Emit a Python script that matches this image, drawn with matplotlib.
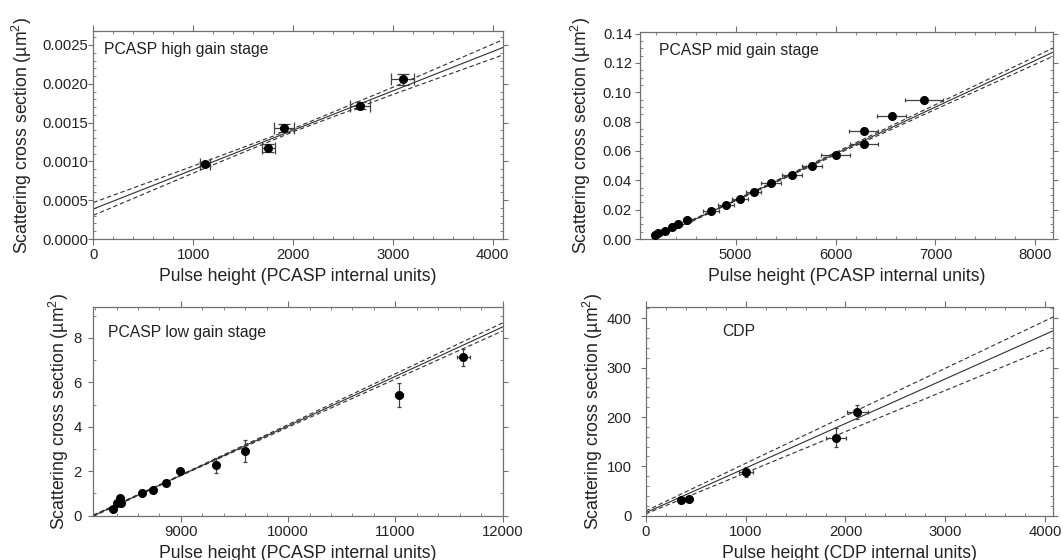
import matplotlib
matplotlib.use("Agg")
import matplotlib.pyplot as plt
from matplotlib.ticker import MultipleLocator, FormatStrFormatter

plt.rcParams['font.family'] = ['Liberation Sans', 'DejaVu Sans']
plt.rcParams['mathtext.default'] = 'regular'

# ---------------- data ----------------
# Panel 1: PCASP high gain stage
hi_x = [1115, 1753, 1912, 2675, 3098]
hi_y = [0.000966, 0.001173, 0.00143, 0.00172, 0.00206]
hi_xerr = [50, 65, 100, 100, 115]
hi_yerr = [0.00003, 0.00005, 0.00005, 0.00004, 0.00007]
hi_fit_x = [0, 4100]
hi_fit_y = [0.000387, 0.002466]
hi_band_x = [0, 1000, 2000, 3000, 4100]
hi_band_up = [0.000470, 0.000940, 0.001421, 0.001955, 0.002566]
hi_band_lo = [0.000305, 0.000849, 0.001381, 0.001862, 0.002370]

# Panel 2: PCASP mid gain stage
mid_x = [4192, 4225, 4292, 4366, 4426, 4510, 4753, 4900, 5043, 5183, 5354,
         5560, 5760, 6001, 6281, 6281, 6561, 6884]
mid_y = [0.0024, 0.0040, 0.0058, 0.0079, 0.0102, 0.0128, 0.0192, 0.0232,
         0.0273, 0.0322, 0.0379, 0.0437, 0.0499, 0.0571, 0.0651, 0.0738,
         0.0839, 0.0949]
mid_xerr = [20, 22, 25, 30, 35, 40, 78, 80, 78, 75, 100, 100, 100, 146, 140,
            143, 146, 187]
mid_fit_x = [4170, 8180]
mid_fit_y = [0.0, 0.1275]
mid_band_x = [4170, 5000, 6000, 7000, 8180]
mid_band_up = [0.0006, 0.0268, 0.0590, 0.0916, 0.1303]
mid_band_lo = [-0.0006, 0.0260, 0.0574, 0.0884, 0.1247]

# Panel 3: PCASP low gain stage
low_x = [8369, 8400, 8430, 8440, 8640, 8740, 8860, 8994, 9331, 9599, 11035,
         11634]
low_y = [0.29, 0.56, 0.78, 0.58, 1.00, 1.17, 1.48, 2.02, 2.26, 2.91, 5.41,
         7.13]
low_xerr = [10, 10, 10, 10, 12, 12, 15, 20, 20, 20, 40, 60]
low_yerr = [0.05, 0.05, 0.06, 0.05, 0.06, 0.06, 0.07, 0.10, 0.33, 0.48,
            0.54, 0.39]
low_fit_x = [8183, 12000]
low_fit_y = [0.0, 8.49]
low_band_x = [8183, 9000, 10000, 11000, 12000]
low_band_up = [0.03, 1.84, 4.10, 6.385, 8.67]
low_band_lo = [-0.03, 1.80, 3.98, 6.145, 8.31]

# Panel 4: CDP
cdp_x = [351, 435, 1006, 1907, 2118]
cdp_y = [31.8, 33.8, 89.0, 158.0, 210.0]
cdp_xerr = [20, 20, 70, 100, 107]
cdp_yerr = [3, 3, 10, 19, 14]
cdp_fit_x = [0, 4080]
cdp_fit_y = [6.0, 375.0]
cdp_band_x = [0, 4080]
cdp_band_up = [9.5, 403.0]
cdp_band_lo = [3.4, 344.0]

# ---------------- figure ----------------
fig = plt.figure(figsize=(10.63, 5.6), dpi=100)

axes_pos = [
    [0.0878, 0.5732, 0.3850, 0.3714],
    [0.6025, 0.5732, 0.3885, 0.3696],
    [0.0878, 0.0791, 0.3850, 0.3732],
    [0.6073, 0.0791, 0.3837, 0.3732],
]

panels = [
    dict(x=hi_x, y=hi_y, xerr=hi_xerr, yerr=hi_yerr, fx=hi_fit_x, fy=hi_fit_y,
         bx=hi_band_x, bu=hi_band_up, bl=hi_band_lo,
         xlim=(0, 4100), ylim=(0, 0.00268), xmaj=1000, xmin=200,
         ymaj=0.0005, ymin=0.0001, yfmt='%.4f',
         title='PCASP high gain stage', tpos=(0.027, 0.909),
         xlabel='Pulse height (PCASP internal units)', ylx=-0.174, capsize=4,
         ypad=0.0),
    dict(x=mid_x, y=mid_y, xerr=mid_xerr, yerr=None, fx=mid_fit_x, fy=mid_fit_y,
         bx=mid_band_x, bu=mid_band_up, bl=mid_band_lo,
         xlim=(4048, 8180), ylim=(0, 0.1411), xmaj=1000, xmin=200,
         ymaj=0.02, ymin=0.005, yfmt='%.2f',
         title='PCASP mid gain stage', tpos=(0.044, 0.913),
         xlabel='Pulse height (PCASP internal units)', ylx=-0.144, capsize=1.5,
         ypad=2.6),
    dict(x=low_x, y=low_y, xerr=low_xerr, yerr=low_yerr, fx=low_fit_x, fy=low_fit_y,
         bx=low_band_x, bu=low_band_up, bl=low_band_lo,
         xlim=(8183, 12000), ylim=(0, 9.4), xmaj=1000, xmin=200,
         ymaj=2, ymin=1, yfmt='%d',
         title='PCASP low gain stage', tpos=(0.035, 0.876),
         xlabel='Pulse height (PCASP internal units)', ylx=-0.083, capsize=1.5,
         ypad=5.1),
    dict(x=cdp_x, y=cdp_y, xerr=cdp_xerr, yerr=cdp_yerr, fx=cdp_fit_x, fy=cdp_fit_y,
         bx=cdp_band_x, bu=cdp_band_up, bl=cdp_band_lo,
         xlim=(0, 4080), ylim=(0, 423.5), xmaj=1000, xmin=200,
         ymaj=100, ymin=20, yfmt='%d',
         title='CDP', tpos=(0.189, 0.880),
         xlabel='Pulse height (CDP internal units)', ylx=-0.129, capsize=1.5,
         ypad=6.5),
]

spine_col = '#707070'
text_col = '#222222'
line_col = '#303030'

for pos, p in zip(axes_pos, panels):
    ax = fig.add_axes(pos)
    ax.plot(p['fx'], p['fy'], color=line_col, lw=0.8, zorder=2)
    ax.plot(p['bx'], p['bu'], color=line_col, lw=0.8, ls=(0, (4, 2.5)), zorder=2)
    ax.plot(p['bx'], p['bl'], color=line_col, lw=0.8, ls=(0, (4, 2.5)), zorder=2)
    ax.errorbar(p['x'], p['y'], xerr=p['xerr'], yerr=p['yerr'], fmt='o',
                color='black', ms=5.5, ecolor='#404040', elinewidth=0.9,
                capsize=p['capsize'], capthick=0.9, zorder=3)
    ax.set_xlim(*p['xlim'])
    ax.set_ylim(*p['ylim'])
    ax.xaxis.set_major_locator(MultipleLocator(p['xmaj']))
    ax.xaxis.set_minor_locator(MultipleLocator(p['xmin']))
    ax.yaxis.set_major_locator(MultipleLocator(p['ymaj']))
    ax.yaxis.set_minor_locator(MultipleLocator(p['ymin']))
    ax.yaxis.set_major_formatter(FormatStrFormatter(p['yfmt']))
    ax.tick_params(which='major', direction='out', length=4, width=0.8,
                   color=spine_col, labelsize=10.7, labelcolor=text_col,
                   top=True, right=True)
    ax.tick_params(which='minor', direction='in', length=2.5, width=0.6,
                   color=spine_col, top=True, right=True)
    ax.tick_params(axis='x', which='major', pad=2.4)
    ax.tick_params(axis='y', which='major', length=3.5, pad=p['ypad'])
    for s in ax.spines.values():
        s.set_color(spine_col)
        s.set_linewidth(0.9)
    ax.text(p['tpos'][0], p['tpos'][1], p['title'], transform=ax.transAxes,
            fontsize=11.3, color=text_col, va='center', ha='left')
    ax.set_xlabel(p['xlabel'], fontsize=12.7, color=text_col)
    ax.set_ylabel('Scattering cross section (µm$^{2}$)', fontsize=12.7,
                  color=text_col)
    ax.xaxis.set_label_coords(0.5, -42.3 / (pos[3] * 560))
    ax.xaxis.label.set_va('baseline')
    ax.yaxis.set_label_coords(p['ylx'], 0.5)
    ax.yaxis.label.set_va('center')

fig.savefig('out.png', dpi=100)
